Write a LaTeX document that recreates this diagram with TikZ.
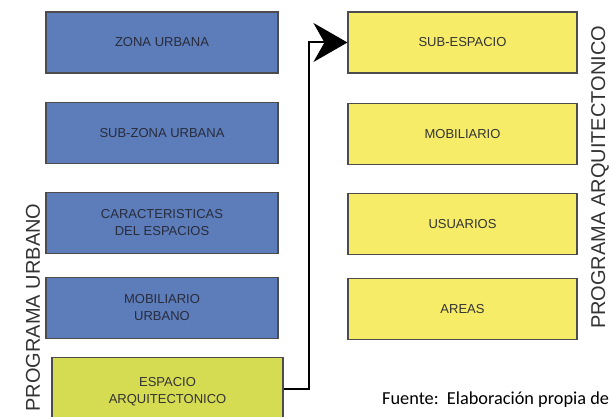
\documentclass[tikz,border=0pt]{standalone}
\usepackage{fontspec}
\setmainfont{Liberation Sans}
\newfontfamily\calfont{Carlito}
\usetikzlibrary{positioning,arrows.meta}

\definecolor{urbblue}{RGB}{92,124,186}
\definecolor{arqyellow}{RGB}{246,236,104}
\definecolor{espgreen}{RGB}{214,220,82}
\definecolor{boxtext}{RGB}{40,44,60}

\tikzset{
  urbbox/.style={draw=black!70, line width=1.1pt, fill=urbblue, text=boxtext,
    minimum width=232pt, minimum height=61pt, align=center, inner sep=0pt,
    font=\fontsize{13}{17}\selectfont},
  arqbox/.style={urbbox, fill=arqyellow, minimum width=229pt, text=black!80},
  flow/.style={line width=2pt, -{Stealth[length=34pt, width=39pt, inset=11pt]}}
}

\begin{document}
\begin{tikzpicture}[x=1pt, y=-1pt]
  \useasboundingbox (0,0) rectangle (611,417);
  \clip (0,0) rectangle (611,417);
  % programa urbano
  \node[urbbox] (zona) at (162,42.5) {ZONA URBANA};
  \node[urbbox, below=28pt of zona] (subzona) {SUB-ZONA URBANA};
  \node[urbbox, below=28pt of subzona] (caract) {CARACTERISTICAS\\DEL ESPACIOS};
  \node[urbbox, below=23pt of caract] (mobur) {MOBILIARIO\\URBANO};
  \node[urbbox, fill=espgreen, text=black!80, minimum width=231pt, minimum height=68pt,
    anchor=north] (espacio) at (167.5,357) {ESPACIO\\ARQUITECTONICO};
  % programa arquitectonico
  \node[arqbox] (subesp) at (462.5,42.5) {SUB-ESPACIO};
  \node[arqbox, below=29pt of subesp] (mobil) {MOBILIARIO};
  \node[arqbox, below=28pt of mobil] (usuarios) {USUARIOS};
  \node[arqbox, below=23pt of usuarios] (areas) {AREAS};
  % titulos
  \node[rotate=90, text=black!80, font=\fontsize{20}{20}\selectfont, inner sep=0pt]
    (turb) at (33,307.5) {PROGRAMA URBANO};
  \node[rotate=90, text=black!80, font=\fontsize{20}{20}\selectfont, inner sep=0pt]
    (tarq) at (600,177.5) {PROGRAMA ARQUITECTONICO};
  \node[anchor=base west, inner sep=0pt, font=\calfont\fontsize{18.3}{20}\selectfont]
    (fuente) at (382,404) {Fuente:~~Elaboración propia de};
  % conexion
  \draw[flow] ([yshift=3pt]espacio.east) -| ([xshift=-38pt]subesp.west) -- (subesp.west);
\end{tikzpicture}
\end{document}
